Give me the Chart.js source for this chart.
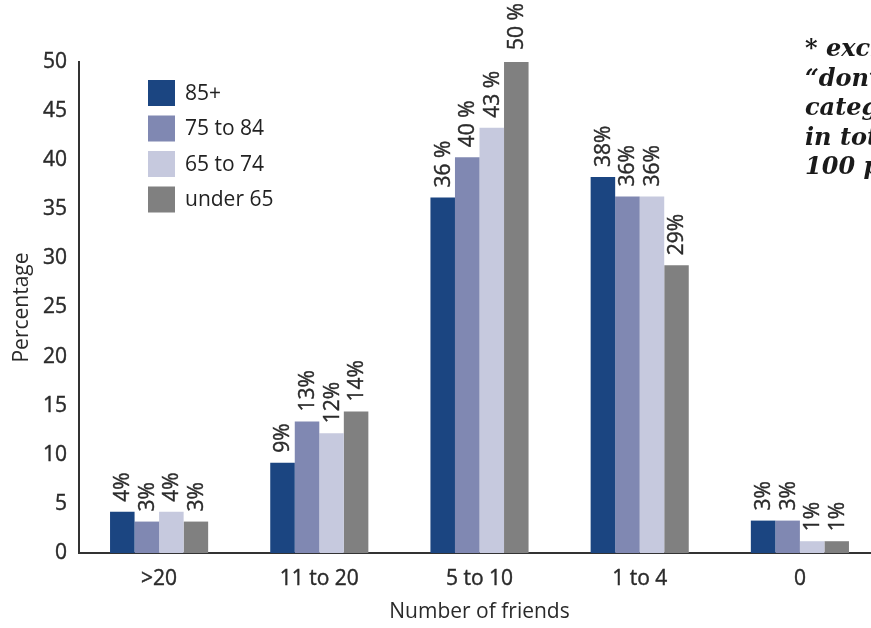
<!DOCTYPE html>
<html><head><meta charset="utf-8">
<script src="https://cdn.jsdelivr.net/npm/chart.js@4.4.1/dist/chart.umd.min.js"></script>
<style>
html,body{margin:0;padding:0;background:#fff;overflow:hidden;width:871px;height:628px;}
#wrap{position:absolute;left:0;top:0;width:880px;height:628px;}
#note{position:absolute;left:805px;top:33px;width:200px;font-family:"DejaVu Serif",serif;font-weight:bold;font-style:italic;font-size:24px;line-height:29.5px;color:#1a1a1a;white-space:nowrap;}
</style></head>
<body>
<div id="wrap"><canvas id="c" width="880" height="628"></canvas></div>
<div id="note">* excluding<br>“don’t know”<br>category, so<br>in total not<br>100 per cent</div>
<script>
const categories = [">20", "11 to 20", "5 to 10", "1 to 4", "0"];
const seriesNames = ["85+", "75 to 84", "65 to 74", "under 65"];
const s85 = [4.2, 9.2, 36.2, 38.3, 3.3];
const s75 = [3.2, 13.4, 40.3, 36.3, 3.3];
const s65 = [4.2, 12.2, 43.3, 36.3, 1.2];
const sUnder = [3.2, 14.4, 50.2, 29.3, 1.2];
const lbl85 = ["4%", "9%", "36 %", "38%", "3%"];
const lbl75 = ["3%", "13%", "40 %", "36%", "3%"];
const lbl65 = ["4%", "12%", "43 %", "36%", "1%"];
const lblUnder = ["3%", "14%", "50 %", "29%", "1%"];
const yTicks = [0, 5, 10, 15, 20, 25, 30, 35, 40, 45, 50];
const colors = ["#1b4581", "#8088b2", "#c6c9de", "#808080"];
const FONT = "'Open Sans', sans-serif";

const barLabels = {
  id: "barLabels",
  afterDatasetsDraw(chart) {
    const ctx = chart.ctx;
    const lbls = [lbl85, lbl75, lbl65, lblUnder];
    chart.data.datasets.forEach((ds, i) => {
      const meta = chart.getDatasetMeta(i);
      meta.data.forEach((bar, j) => {
        ctx.save();
        ctx.translate(bar.x, bar.y - 10);
        ctx.rotate(-Math.PI / 2);
        ctx.font = "21px " + FONT;
        ctx.fillStyle = "#2a2a2a";
        ctx.strokeStyle = "#2a2a2a";
        ctx.lineWidth = 0.4;
        ctx.textAlign = "left";
        ctx.textBaseline = "middle";
        ctx.fillText(lbls[i][j], 0, 1);
        ctx.strokeText(lbls[i][j], 0, 1);
        ctx.restore();
      });
    });
  }
};

const innerLegend = {
  id: "innerLegend",
  afterDraw(chart) {
    const ctx = chart.ctx;
    chart.data.datasets.forEach((ds, i) => {
      const y = 80 + i * 35.5;
      ctx.fillStyle = ds.backgroundColor;
      ctx.fillRect(148, y, 27, 26);
      ctx.fillStyle = "#222";
      ctx.font = "21px " + FONT;
      ctx.textBaseline = "middle";
      ctx.textAlign = "left";
      ctx.fillText(ds.label, 185, y + 14);
    });
  }
};

new Chart(document.getElementById("c"), {
  type: "bar",
  data: {
    labels: categories,
    datasets: [
      { label: seriesNames[0], data: s85, backgroundColor: colors[0] },
      { label: seriesNames[1], data: s75, backgroundColor: colors[1] },
      { label: seriesNames[2], data: s65, backgroundColor: colors[2] },
      { label: seriesNames[3], data: sUnder, backgroundColor: colors[3] }
    ]
  },
  options: {
    responsive: false,
    animation: false,
    devicePixelRatio: 1,
    layout: { padding: { top: 62, left: 0, right: 0, bottom: 0 } },
    datasets: { bar: { barPercentage: 1, categoryPercentage: 0.6125 } },
    plugins: { legend: { display: false }, tooltip: { enabled: false } },
    scales: {
      x: {
        grid: { display: false, drawTicks: false },
        border: { display: true, color: "#333", width: 2 },
        ticks: { color: "#2a2a2a", font: { family: FONT, size: 21 }, padding: 13, textStrokeColor: "#2a2a2a", textStrokeWidth: 0.4 },
        title: { display: true, text: "Number of friends", color: "#2a2a2a", font: { family: FONT, size: 21 }, padding: { top: 4, bottom: 3 } },
        afterFit(s) { s.height = 75; }
      },
      y: {
        min: 0, max: 50,
        afterBuildTicks(s) { s.ticks = yTicks.map(v => ({ value: v })); },
        grid: { display: false, drawTicks: false },
        border: { display: true, color: "#333", width: 2 },
        ticks: { color: "#2a2a2a", font: { family: FONT, size: 21 }, padding: 12, textStrokeColor: "#2a2a2a", textStrokeWidth: 0.4 },
        title: { display: true, text: "Percentage", color: "#2a2a2a", font: { family: FONT, size: 21 }, padding: { top: 9, bottom: 0 } },
        afterFit(s) { s.width = 79; }
      }
    }
  },
  plugins: [barLabels, innerLegend]
});
</script>
</body></html>
